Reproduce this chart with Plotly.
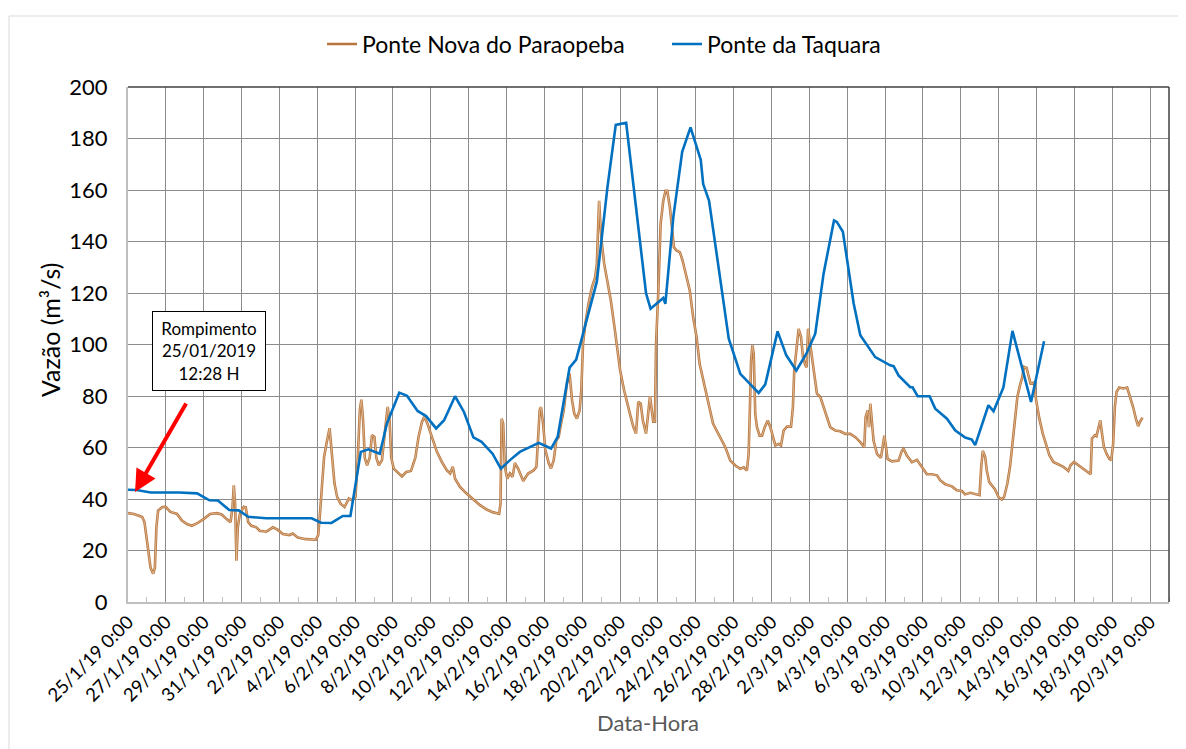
import pandas as pd
import plotly.graph_objects as go

# ---------------- data ----------------
start_date = "2019-01-25"
end_date = "2019-03-21"

series_names = ["Ponte Nova do Paraopeba", "Ponte da Taquara"]

# Ponte Nova do Paraopeba: days since 25/01/2019 00:00 and flow (m3/s)
pn_day = [
    0, 0.31, 0.58, 0.75, 0.87, 1.01, 1.19, 1.33, 1.42, 1.5,
    1.59, 1.8, 1.98, 2.24, 2.59, 2.85, 3.11, 3.37, 3.64, 3.99,
    4.34, 4.69, 4.95, 5.21, 5.42, 5.52, 5.59, 5.66, 5.73, 5.8,
    5.91, 6.12, 6.22, 6.35, 6.52, 6.78, 6.96, 7.31, 7.66, 7.92,
    8.18, 8.53, 8.71, 8.97, 9.41, 9.93, 10.05, 10.15, 10.28, 10.36,
    10.5, 10.65, 10.79, 10.91, 11.05, 11.23, 11.44, 11.67, 11.84, 12.02,
    12.14, 12.25, 12.33, 12.42, 12.51, 12.63, 12.77, 12.89, 13.02, 13.12,
    13.25, 13.42, 13.6, 13.72, 13.82, 13.91, 14.04, 14.3, 14.47, 14.7,
    14.95, 15.18, 15.35, 15.53, 15.65, 15.82, 16.05, 16.32, 16.58, 16.84,
    17.02, 17.16, 17.28, 17.54, 17.89, 18.25, 18.6, 18.95, 19.3, 19.61,
    19.68, 19.74, 19.82, 19.91, 20.04, 20.18, 20.32, 20.44, 20.61, 20.88,
    21.14, 21.44, 21.58, 21.65, 21.75, 21.82, 21.93, 22.05, 22.23, 22.35,
    22.49, 22.63, 22.75, 22.88, 23.02, 23.19, 23.33, 23.46, 23.58, 23.72,
    23.86, 23.95, 24.04, 24.16, 24.33, 24.51, 24.68, 24.77, 24.84, 24.89,
    24.95, 25.04, 25.16, 25.33, 25.51, 25.68, 25.86, 26.0, 26.21, 26.39,
    26.56, 26.7, 26.84, 26.96, 27.09, 27.2, 27.37, 27.58, 27.75, 27.84,
    27.9, 28.02, 28.14, 28.28, 28.4, 28.49, 28.63, 28.72, 28.84, 28.98,
    29.16, 29.3, 29.5, 29.68, 29.86, 30.04, 30.2, 30.39, 30.56, 30.74,
    30.91, 31.09, 31.26, 31.56, 31.82, 32.09, 32.35, 32.53, 32.7, 32.79,
    32.85, 32.92, 32.99, 33.06, 33.14, 33.23, 33.37, 33.5, 33.64, 33.8,
    33.94, 34.08, 34.2, 34.38, 34.5, 34.64, 34.82, 35.03, 35.13, 35.2,
    35.31, 35.43, 35.56, 35.66, 35.79, 35.86, 35.93, 36.01, 36.14, 36.26,
    36.4, 36.58, 36.75, 36.93, 37.1, 37.37, 37.63, 37.9, 38.16, 38.43,
    38.69, 38.9, 38.97, 39.08, 39.15, 39.22, 39.31, 39.39, 39.57, 39.78,
    39.87, 39.96, 40.05, 40.13, 40.36, 40.71, 40.89, 40.98, 41.15, 41.42,
    41.68, 41.95, 42.21, 42.47, 42.74, 42.91, 43.18, 43.53, 43.79, 44.06,
    44.23, 44.5, 44.76, 44.99, 45.08, 45.16, 45.29, 45.37, 45.5, 45.64,
    45.81, 45.99, 46.17, 46.29, 46.46, 46.6, 46.75, 46.87, 46.99, 47.13,
    47.25, 47.34, 47.48, 47.57, 47.69, 47.78, 47.87, 47.98, 48.15, 48.33,
    48.5, 48.68, 48.89, 49.15, 49.42, 49.68, 49.8, 49.98, 50.21, 50.47,
    50.73, 50.86, 50.93, 51.09, 51.17, 51.3, 51.37, 51.46, 51.56, 51.7,
    51.84, 51.95, 52.05, 52.14, 52.23, 52.37, 52.58, 52.79, 52.93, 53.1,
    53.25, 53.37, 53.49, 53.6,
]
pn_flow = [
    34.5, 34.2, 33.5, 33, 31, 22.5, 13.3, 11, 13.3, 29,
    35.5, 36.8, 37, 35, 34.2, 31.6, 30.3, 29.6, 30.5, 32.2,
    34.2, 34.5, 34, 32.2, 31, 36.8, 45.3, 38, 16, 29,
    34.2, 37, 36.8, 31, 29.6, 29, 27.7, 27.3, 29, 28,
    26.4, 26, 26.6, 25, 24.4, 24.2, 26, 35, 47.3, 56.3,
    62, 67.5, 56, 46, 40.8, 38.2, 36.9, 40.2, 39.5, 40.8,
    56, 74.5, 78.6, 70.6, 56, 53.1, 56, 64.8, 64.1, 56,
    53.1, 55.1, 68, 75.8, 70.6, 56, 51.8, 49.9, 48.8, 50.5,
    50.9, 56, 64.1, 69.9, 71.9, 69.3, 64.1, 58.3, 54.4, 51.2,
    49.9, 52.5, 47.9, 44.7, 42.1, 39.8, 37.6, 35.9, 34.8, 34.3,
    38.2, 71.2, 69.3, 52.5, 47.9, 49.9, 48.6, 54, 51.8, 47,
    49.9, 51.2, 52.5, 61.5, 74.4, 75.7, 69.3, 59, 53.9, 51.9,
    55, 62.8, 64, 69.3, 74.4, 84.8, 88.7, 78.4, 73.1, 71.2,
    74.4, 82.2, 100.3, 108, 115.8, 122.2, 126.1, 131.3, 146.8, 155.8,
    148, 139, 131.3, 124.8, 117.1, 108, 97.7, 90, 82.2, 76.4,
    71.9, 68, 65.4, 77.7, 77, 70.6, 65.4, 79.9, 70, 70,
    100.3, 121, 146.8, 155.8, 159.7, 159.7, 153.3, 146.8, 137.8, 136.5,
    135.8, 132.6, 126.1, 121, 110.6, 102.9, 92.5, 86, 80.9, 74.4,
    69.3, 66.7, 64.1, 60.1, 54.9, 53, 51.7, 52.3, 51, 57.5,
    73.1, 93.8, 99.7, 96.4, 73.1, 67.9, 64.6, 64.6, 67.9, 70.5,
    67.9, 64, 60.8, 61.4, 60.8, 66.6, 68.1, 68.1, 75.7, 89.9,
    99, 106.1, 102.9, 95.1, 91.9, 91.2, 106.1, 101.6, 93.8, 88.6,
    80.9, 79.6, 75.7, 71.8, 67.9, 66.6, 66.3, 65.3, 65.3, 64,
    62.1, 60.1, 71.8, 74.4, 67.9, 77, 70.5, 62.7, 57.5, 56,
    60.1, 64.6, 60.1, 55.6, 54.6, 54.9, 58.8, 59.5, 56.9, 54.3,
    55.2, 52.4, 49.6, 49.6, 49.2, 47.3, 45.7, 44.9, 43.4, 43.1,
    41.8, 42.4, 41.8, 41.5, 52.5, 58.7, 56.3, 51.2, 46.6, 45.3,
    43.7, 40.8, 39.8, 40.8, 46, 52.5, 62.8, 73.2, 79.7, 84.2,
    87.4, 91.3, 90.9, 88.1, 84.8, 84.8, 85.5, 78.4, 71.2, 65.4,
    61.5, 57, 54.4, 53.4, 52.5, 50.9, 53.1, 54.4, 53.1, 51.8,
    50.1, 49.6, 63.5, 64.8, 64.4, 68, 70.6, 65.4, 60.2, 57.6,
    55.7, 55, 61.5, 75.8, 81.6, 83.3, 82.9, 83.3, 80.3, 75.8,
    71.2, 68.3, 70.3, 71.6,
]

# Ponte da Taquara
pt_day = [
    0, 0.45, 1.2, 2.7, 3.65, 4.3, 4.75, 5.35, 5.85, 6.35,
    7.3, 9.7, 10.2, 10.75, 11.35, 11.75, 12.3, 12.7, 13.3, 13.68,
    14.33, 14.74, 15.3, 15.75, 16.28, 16.7, 17.28, 17.75, 18.25, 18.68,
    19.26, 19.7, 20.18, 20.7, 21.7, 22.35, 22.7, 23.33, 23.68, 24.77,
    25.33, 25.77, 26.32, 27.37, 27.61, 28.28, 28.39, 28.81, 29.28, 29.72,
    30.26, 30.39, 30.7, 31.74, 32.35, 33.32, 33.67, 34.32, 34.78, 35.31,
    35.84, 36.31, 36.75, 37.3, 37.45, 37.77, 38.34, 38.69, 39.48, 40.27,
    40.45, 40.71, 41.33, 41.45, 41.72, 42.35, 42.65, 43.27, 43.7, 44.23,
    44.58, 44.76, 45.46, 45.73, 46.25, 46.73, 47.71, 48.4,
]
pt_flow = [
    43.6, 43.5, 42.5, 42.5, 42.2, 39.5, 39.4, 35.7, 35.6, 33.1,
    32.5, 32.5, 30.8, 30.7, 33.4, 33.4, 58.3, 59.3, 57.6, 69.3,
    81.3, 80.1, 74.2, 72.2, 67.4, 70.6, 79.9, 73.8, 63.9, 62.2,
    57.6, 51.8, 55.1, 58.3, 61.8, 59.6, 64.1, 91, 94.1, 124.4,
    161, 185.3, 186.1, 119.9, 113.9, 118.1, 115.8, 149.4, 174.8, 184.3,
    171.7, 162.3, 155.8, 102.3, 88.6, 81.2, 84.5, 105.1, 95.8, 89.9,
    96.4, 104.2, 127.5, 148.2, 147.6, 143.8, 115.9, 103.6, 95.1, 91.9,
    91.6, 88, 83.4, 83.4, 79.9, 79.9, 75.1, 71.2, 66.7, 63.9,
    63.1, 60.9, 76.4, 74.1, 83.3, 105.3, 77.7, 101.3,
]

y_ticks = [0, 20, 40, 60, 80, 100, 120, 140, 160, 180, 200]
annotation_text = "Rompimento<br>25/01/2019<br>12:28 H"
x_title = "Data-Hora"
y_title = "Vazão (m³/s)"

assert len(pn_day) == len(pn_flow)
assert len(pt_day) == len(pt_flow)

base = pd.Timestamp(start_date)
pn_x = base + pd.to_timedelta(pn_day, unit="D")
pt_x = base + pd.to_timedelta(pt_day, unit="D")

# ---------------- layout geometry ----------------
W, H = 1186, 749
OFF = 8                       # page offset of the plot div (body margin)
PL, PR, PT, PB = 128, 1169, 87, 602   # plot area in page pixels
L = PL - OFF
T = PT - OFF
R = W - (PR - OFF)
B = H - (PB - OFF)
plot_w = PR - PL
plot_h = PB - PT


def px_x(p):
    return (p - PL) / plot_w


def px_y(p):
    return (PB - p) / plot_h


BROWN = "#B8763F"
BLUE = "#0070C0"
FONT = "Lato, 'Open Sans', sans-serif"

fig = go.Figure()
fig.add_trace(go.Scatter(
    x=pn_x, y=pn_flow, mode="lines", name=series_names[0],
    line=dict(color=BROWN, width=2.6),
))
fig.add_trace(go.Scatter(
    x=pn_x, y=pn_flow, mode="lines", showlegend=False, hoverinfo="skip",
    line=dict(color="#E9CBAA", width=0.7),
))
fig.add_trace(go.Scatter(
    x=pt_x, y=pt_flow, mode="lines", name=series_names[1],
    line=dict(color=BLUE, width=2.6),
))

DAY_MS = 86400000

fig.update_layout(
    width=W, height=H,
    margin=dict(l=L, r=R, t=T, b=B, autoexpand=False),
    paper_bgcolor="white", plot_bgcolor="white",
    font=dict(family=FONT, color="black"),
    showlegend=True,
    legend=dict(
        orientation="h", x=px_x(322), xanchor="left",
        y=px_y(44), yanchor="middle",
        font=dict(size=23, color="black", family=FONT),
        itemwidth=30, entrywidth=300, tracegroupgap=0,
        bgcolor="rgba(0,0,0,0)",
    ),
    xaxis=dict(
        type="date",
        range=[start_date, end_date],
        tick0=start_date, dtick=2 * DAY_MS,
        tickformat="%-d/%-m/%y %-H:%M",
        tickangle=-45,
        tickfont=dict(size=18.5, color="black"),
        showgrid=True, gridcolor="#8C8C8C", gridwidth=1,
        showline=True, linecolor="#BFBFBF", linewidth=2,
        ticks="", automargin=False,
        minor=dict(dtick=DAY_MS, tick0=start_date, ticks="inside",
                   ticklen=5, tickcolor="#BFBFBF", tickwidth=1, showgrid=False),
        zeroline=False,
    ),
    yaxis=dict(
        range=[0, 200],
        tickvals=y_ticks,
        tickfont=dict(size=22, color="black"),
        showgrid=True, gridcolor="#8C8C8C", gridwidth=1,
        showline=True, linecolor="#BFBFBF", linewidth=2,
        ticks="", ticklabelstandoff=14, automargin=False,
        zeroline=False,
    ),
)

# top and right plot-area border, outer chart border
fig.add_shape(type="line", xref="paper", yref="paper", x0=0, x1=1, y0=1, y1=1,
              line=dict(color="#404040", width=1.5))
fig.add_shape(type="line", xref="paper", yref="paper", x0=1, x1=1, y0=0, y1=1,
              line=dict(color="#404040", width=1.5))
fig.add_shape(type="line", xref="paper", yref="paper",
              x0=px_x(9), x1=px_x(1250), y0=px_y(16), y1=px_y(16),
              line=dict(color="#D9D9D9", width=1))
fig.add_shape(type="line", xref="paper", yref="paper",
              x0=px_x(9), x1=px_x(9), y0=px_y(16), y1=px_y(800),
              line=dict(color="#D9D9D9", width=1))

# axis titles
fig.add_annotation(text=y_title, xref="paper", yref="paper",
                   x=px_x(50), y=px_y(330), textangle=-90, showarrow=False,
                   xanchor="center", yanchor="middle",
                   font=dict(size=25, color="black", family=FONT))
fig.add_annotation(text=x_title, xref="paper", yref="paper",
                   x=px_x(648), y=px_y(722), showarrow=False,
                   xanchor="center", yanchor="middle",
                   font=dict(size=22, color="#595959", family=FONT))

# callout box
fig.add_annotation(text=annotation_text, xref="paper", yref="paper",
                   x=px_x(209), y=px_y(350.5), showarrow=False,
                   xanchor="center", yanchor="middle",
                   font=dict(size=17, color="black", family=FONT),
                   bordercolor="black", borderwidth=1, borderpad=4,
                   bgcolor="white", width=104, height=70)

# red arrow
fig.add_annotation(text="", xref="paper", yref="paper",
                   x=px_x(135), y=px_y(492), ax=52, ay=-90,
                   showarrow=True, arrowhead=2, arrowsize=1.1,
                   arrowwidth=4, arrowcolor="#FF0000")

fig.write_html("out.html")
